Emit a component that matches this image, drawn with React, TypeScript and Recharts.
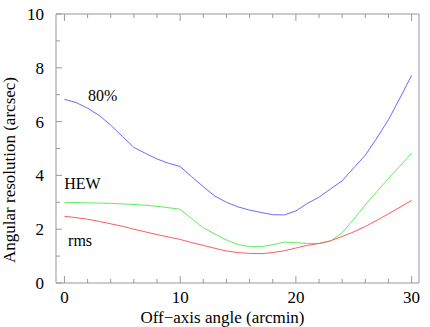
import { LineChart, Line, XAxis, YAxis, ReferenceDot } from 'recharts';

const angles = [0, 1, 2, 3, 4, 5, 6, 7, 8, 9, 10, 11, 12, 13, 14, 15, 16, 17, 18, 19, 20, 21, 22, 23, 24, 25, 26, 27, 28, 29, 30];
const eef80 = [6.83, 6.71, 6.5, 6.23, 5.87, 5.45, 5.04, 4.82, 4.61, 4.45, 4.33, 3.95, 3.58, 3.23, 3.0, 2.83, 2.71, 2.62, 2.54, 2.53, 2.68, 2.96, 3.19, 3.5, 3.8, 4.28, 4.75, 5.39, 6.07, 6.88, 7.72];
const hew = [3.0, 2.99, 2.98, 2.97, 2.96, 2.94, 2.92, 2.89, 2.85, 2.8, 2.74, 2.39, 2.05, 1.82, 1.6, 1.43, 1.35, 1.35, 1.42, 1.52, 1.5, 1.47, 1.47, 1.56, 1.87, 2.37, 2.9, 3.4, 3.88, 4.35, 4.82];
const rms = [2.48, 2.43, 2.37, 2.29, 2.2, 2.11, 2.0, 1.9, 1.8, 1.71, 1.62, 1.5, 1.4, 1.29, 1.19, 1.13, 1.1, 1.09, 1.13, 1.2, 1.3, 1.4, 1.47, 1.57, 1.73, 1.9, 2.1, 2.33, 2.57, 2.82, 3.07];

const xTicks = [0, 2, 4, 6, 8, 10, 12, 14, 16, 18, 20, 22, 24, 26, 28, 30];
const yTicks = [0, 1, 2, 3, 4, 5, 6, 7, 8, 9, 10];

// curve labels placed in data space
const curveLabels = [
  { text: '80%', x: 3.3, y: 7.0 },
  { text: 'HEW', x: 1.56, y: 3.71 },
  { text: 'rms', x: 1.35, y: 1.59 },
];

const data = angles.map((a, i) => ({ angle: a, eef80: eef80[i], hew: hew[i], rms: rms[i] }));

const FONT = 'Liberation Serif';
const FRAME = '#999';
const txt = { fontFamily: FONT, fontSize: 17, fill: '#000' };

const BottomTick = ({ x, y, payload }: any) => {
  const v = payload.value;
  const major = v % 10 === 0;
  return (
    <g>
      <line x1={x} x2={x} y1={y} y2={y - (major ? 7 : 4)} stroke={FRAME} />
      {major && (
        <text x={x} y={y + 20} textAnchor="middle" style={txt}>
          {v}
        </text>
      )}
    </g>
  );
};

const TopTick = ({ x, y, payload }: any) => {
  const major = payload.value % 10 === 0;
  return <line x1={x} x2={x} y1={y} y2={y + (major ? 7 : 4)} stroke={FRAME} />;
};

const LeftTick = ({ x, y, payload }: any) => {
  const v = payload.value;
  const major = v % 2 === 0;
  return (
    <g>
      <line x1={x} x2={x + (major ? 6 : 4)} y1={y} y2={y} stroke={FRAME} />
      {major && (
        <text x={x - 12} y={y + 6} textAnchor="end" style={txt}>
          {v}
        </text>
      )}
    </g>
  );
};

const RightTick = ({ x, y, payload }: any) => {
  const major = payload.value % 2 === 0;
  return <line x1={x} x2={x - (major ? 6 : 4)} y1={y} y2={y} stroke={FRAME} />;
};

export default function App() {
  return (
    <div style={{ position: 'absolute', left: 0, top: 0, width: 430, height: 327, background: '#fff' }}>
      <LineChart width={430} height={327} data={data} margin={{ top: 13, right: 10, bottom: 4, left: 16 }}>
        <XAxis
          xAxisId="b"
          dataKey="angle"
          type="number"
          domain={[-0.73, 30.64]}
          ticks={xTicks}
          interval={0}
          allowDataOverflow
          height={40}
          tickSize={0}
          tickMargin={0}
          tickLine={false}
          axisLine={{ stroke: FRAME }}
          tick={BottomTick}
          label={{
            content: ({ viewBox }: any) => (
              <text x={viewBox.x + viewBox.width / 2 - 15} y={viewBox.y + viewBox.height} textAnchor="middle" style={txt}>
                Off−axis angle (arcmin)
              </text>
            ),
          }}
        />
        <XAxis
          xAxisId="t"
          orientation="top"
          dataKey="angle"
          type="number"
          domain={[-0.73, 30.64]}
          ticks={xTicks}
          interval={0}
          allowDataOverflow
          height={1}
          tickSize={0}
          tickMargin={0}
          tickLine={false}
          axisLine={{ stroke: FRAME }}
          tick={TopTick}
        />
        <YAxis
          yAxisId="l"
          type="number"
          domain={[0, 10]}
          ticks={yTicks}
          interval={0}
          width={40}
          tickSize={0}
          tickMargin={0}
          tickLine={false}
          axisLine={{ stroke: FRAME }}
          tick={LeftTick}
          label={{
            content: () => (
              <text x={15} y={170} transform="rotate(-90 15 170)" textAnchor="middle" style={txt}>
                Angular resolution (arcsec)
              </text>
            ),
          }}
        />
        <YAxis
          yAxisId="r"
          orientation="right"
          type="number"
          domain={[0, 10]}
          ticks={yTicks}
          interval={0}
          width={1}
          tickSize={0}
          tickMargin={0}
          tickLine={false}
          axisLine={{ stroke: FRAME }}
          tick={RightTick}
        />
        <Line xAxisId="b" yAxisId="l" type="linear" dataKey="eef80" stroke="#6a6aff" strokeWidth={1} dot={false} isAnimationActive={false} />
        <Line xAxisId="b" yAxisId="l" type="linear" dataKey="hew" stroke="#5cee5c" strokeWidth={1} dot={false} isAnimationActive={false} />
        <Line xAxisId="b" yAxisId="l" type="linear" dataKey="rms" stroke="#ff5c5c" strokeWidth={1} dot={false} isAnimationActive={false} />
        {curveLabels.map((c) => (
          <ReferenceDot
            key={c.text}
            xAxisId="b"
            yAxisId="l"
            x={c.x}
            y={c.y}
            r={0}
            stroke="none"
            fill="none"
            label={{
              content: ({ viewBox }: any) => (
                <text
                  x={viewBox.x + viewBox.width / 2}
                  y={viewBox.y + viewBox.height / 2 + 6}
                  textAnchor="middle"
                  style={{ ...txt, fontSize: 16 }}
                >
                  {c.text}
                </text>
              ),
            }}
          />
        ))}
      </LineChart>
    </div>
  );
}
